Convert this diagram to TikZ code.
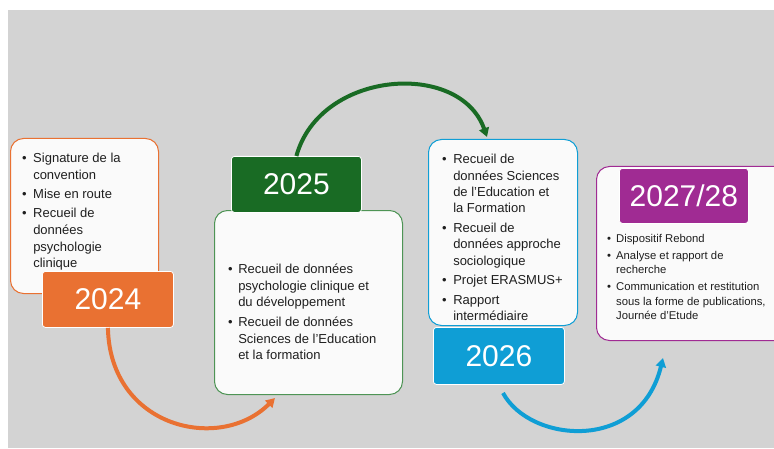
\documentclass[tikz,border=0pt]{standalone}
\usepackage{fontspec}
\setmainfont{Liberation Sans}
\usetikzlibrary{arrows.meta}

\definecolor{bggrey}{HTML}{D3D3D3}
\definecolor{cardfill}{HTML}{FAFAFA}
\definecolor{orange24}{HTML}{E97132}
\definecolor{green25}{HTML}{196B24}
\definecolor{greenline}{HTML}{4E9455}
\definecolor{blue26}{HTML}{0F9ED5}
\definecolor{purple27}{HTML}{A02B93}
\definecolor{ink}{HTML}{1F1F1F}

\newcommand{\bigfont}{\fontsize{13}{16.5}\selectfont}
\newcommand{\smallfont}{\fontsize{11.3}{14.5}\selectfont}

\begin{document}
\begin{tikzpicture}[x=1pt,y=1pt,>={Triangle[length=9pt,width=10pt]},
	card/.style={rectangle,rounded corners=13pt,fill=cardfill,line width=1pt,anchor=north west,inner sep=0pt},
	year/.style={rectangle,rounded corners=3pt,draw=white,line width=0.8pt,text=white,
		font=\fontsize{30}{36}\selectfont,inner sep=0pt,anchor=north west},
	list/.style={anchor=base west,inner sep=0pt,text=ink,font=\bigfont},
	flow/.style={->,line width=4pt,overlay}]
	
	\useasboundingbox (0,0) rectangle (774,448);
	\begin{scope}
	\clip (0,0) rectangle (774,448);
	\fill[bggrey] (8,0) rectangle (774,438);
	
	% boxes
	\node[card,draw=orange24,minimum width=148pt,minimum height=155pt] (b24) at (10,310) {};
	\node[card,draw=greenline,minimum width=188pt,minimum height=184pt] (b25) at (214,238) {};
	\node[card,draw=blue26,minimum width=149pt,minimum height=186pt] (b26) at (428,309) {};
	\node[card,draw=purple27,minimum width=194pt,minimum height=174pt] (b27) at (596,282) {};
	
	% years
	\node[year,fill=orange24,minimum width=131pt,minimum height=56pt] (y24) at (42,177) {2024};
	\node[year,fill=green25,minimum width=130pt,minimum height=56pt] (y25) at (231,292) {2025};
	\node[year,fill=blue26,minimum width=131pt,minimum height=57pt] (y26) at (433,121) {2026};
	\node[year,fill=purple27,minimum width=129pt,minimum height=55pt] (y27) at (619,280) {2027/28};
	
	% lists
	\node[list] (t24) at (22,285.5) {\begin{tabular}[t]{@{}l@{\hspace{6.5pt}}l@{}}
		\textbullet & Signature de la\\ & convention\\[3pt]
		\textbullet & Mise en route\\[3pt]
		\textbullet & Recueil de\\ & données\\ & psychologie\\ & clinique
		\end{tabular}};
	\node[list] (t25) at (228,174.5) {\begin{tabular}[t]{@{}l@{\hspace{5.5pt}}l@{}}
		\textbullet & Recueil de données\\ & psychologie clinique et\\ & du développement\\[3.5pt]
		\textbullet & Recueil de données\\ & Sciences de l’Education\\ & et la formation
		\end{tabular}};
	\node[list] (t26) at (442,284.5) {\begin{tabular}[t]{@{}l@{\hspace{6.5pt}}l@{}}
		\textbullet & Recueil de\\ & données Sciences\\ & de l’Education et\\ & la Formation\\[3pt]
		\textbullet & Recueil de\\ & données approche\\ & sociologique\\[3pt]
		\textbullet & Projet ERASMUS+\\[3pt]
		\textbullet & Rapport\\ & intermédiaire
		\end{tabular}};
	\node[list,font=\smallfont] (t27) at (607,206) {\begin{tabular}[t]{@{}l@{\hspace{5pt}}l@{}}
		\textbullet & Dispositif Rebond\\[2.5pt]
		\textbullet & Analyse et rapport de\\ & recherche\\[2.5pt]
		\textbullet & Communication et restitution\\ & sous la forme de publications,\\ & Journée d’Etude
		\end{tabular}};
	
	% arrows
	\coordinate (o25) at (275,50);
	\coordinate (g26) at (487,311);
	\coordinate (s26) at (503,55);
	\coordinate (p27) at (663,90);
	\draw[flow,orange24] (y24.south) .. controls (110,20) and (220,-5) .. (o25);
	\draw[flow,green25] (y25.north) .. controls (320,378) and (460,388) .. (g26);
	\draw[flow,blue26] (s26) .. controls (530,5) and (640,-5) .. (p27);
	\end{scope}
	
\end{tikzpicture}
\end{document}
